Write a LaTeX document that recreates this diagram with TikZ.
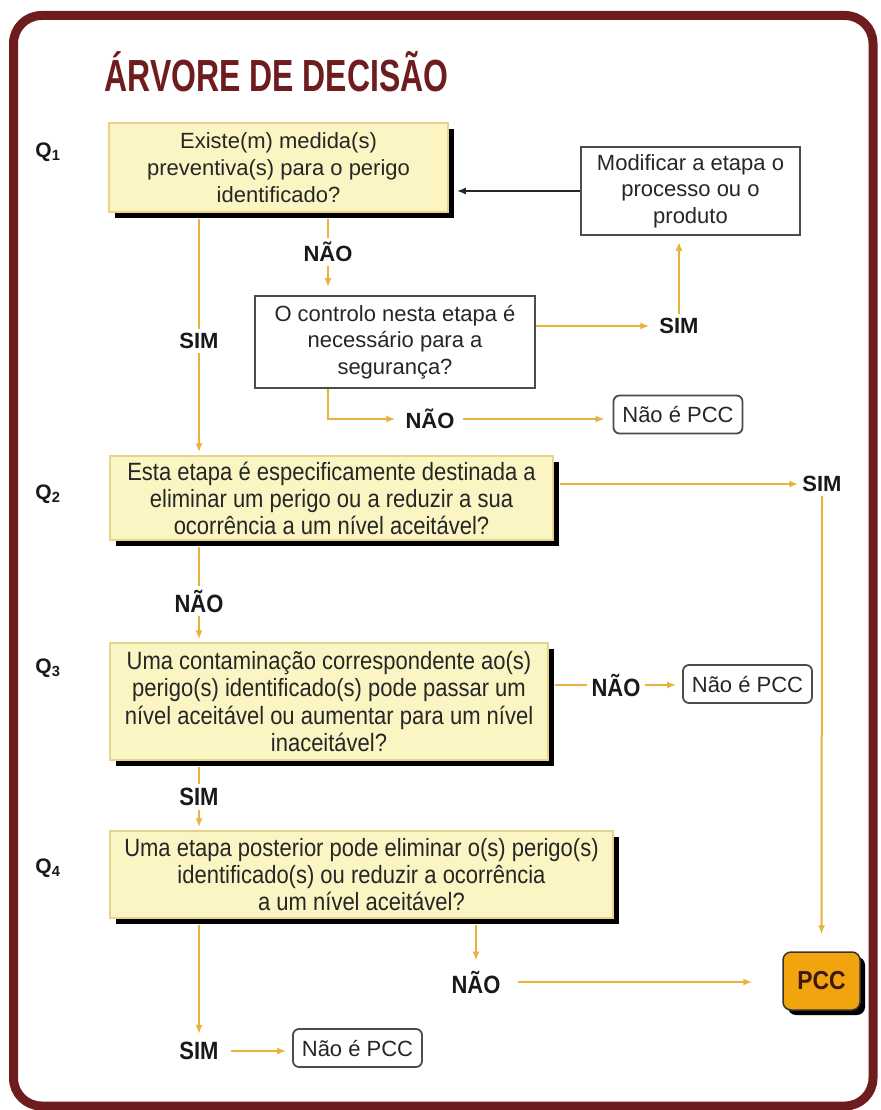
\documentclass[tikz,border=0pt]{standalone}
\usepackage{fontspec}
\setmainfont{Liberation Sans}
\newfontfamily\narrowfont[FakeStretch=0.88]{Liberation Sans}
\newfontfamily\titlefont[FakeStretch=0.71]{Liberation Sans}
\usetikzlibrary{arrows.meta,shadows}

\definecolor{framered}{HTML}{6E1C1E}
\definecolor{boxyellow}{HTML}{FBF5C3}
\definecolor{boxedge}{HTML}{E6D38C}
\definecolor{linegold}{HTML}{E8B23C}
\definecolor{pccorange}{HTML}{F2A40E}

\begin{document}
\begin{tikzpicture}[x=1pt, y=-1pt,
    qbox/.style={draw=boxedge, line width=1.5pt, fill=boxyellow, align=center, text=black!85,
      drop shadow={shadow xshift=6pt, shadow yshift=-6pt, fill=black, opacity=1}},
    whitebox/.style={draw=black!70, line width=1.8pt, fill=white, align=center, text=black!85,
      font=\fontsize{22}{26.5}\selectfont},
    notbox/.style={whitebox, rounded corners=6pt, minimum width=129pt, minimum height=38pt, inner sep=2pt},
    pccbox/.style={draw=black!80, line width=1.5pt, fill=pccorange, rounded corners=8pt,
      text={rgb,255:red,60;green,25;blue,10}, font=\narrowfont\bfseries\fontsize{26}{26}\selectfont,
      drop shadow={shadow xshift=5pt, shadow yshift=-5pt, fill=black, opacity=1}},
    lbl/.style={font=\bfseries\fontsize{22}{24}\selectfont, text=black!90, inner sep=4pt},
    lbllow/.style={lbl, font=\narrowfont\bfseries\fontsize{25}{26}\selectfont},
    qlab/.style={font=\bfseries\fontsize{21}{21}\selectfont, text=black!90},
    yesno/.style={draw=linegold, line width=2pt},
    yesnoarrow/.style={yesno, -{Latex[length=9pt,width=7pt]}},
    backarrow/.style={draw=black!85, line width=2pt, -{Latex[length=9pt,width=7pt]}}
]
    % Define the page and the left column
    \def\pagew{880}
    \def\pageh{1110}
    \def\leftcol{199}
    \useasboundingbox (0,0) rectangle (\pagew,\pageh);

    % Draw the frame
    \draw[framered, line width=9pt, rounded corners=28pt, fill=white] (13.5,15.5) rectangle (873,1106);
    \node[anchor=base west, text=framered, font=\titlefont\bfseries\fontsize{45}{45}\selectfont] (title) at (101,92) {ÁRVORE DE DECISÃO};

    % Question labels
    \foreach \i/\y in {1/152,2/494,3/668,4/868} {
      \node[qlab] (qlab\i) at (48,\y) {Q\textsubscript{\i}};
    }

    % Draw the question boxes
    \node[qbox, minimum width=339pt, minimum height=89pt, font=\fontsize{22}{27}\selectfont] (q1) at (278.5,167.5)
      {Existe(m) medida(s)\\preventiva(s) para o perigo\\identificado?};
    \node[qbox, minimum width=443pt, minimum height=84pt, font=\narrowfont\fontsize{25}{27}\selectfont] (q2) at (331.5,498)
      {Esta etapa é especificamente destinada a\\eliminar um perigo ou a reduzir a sua\\ocorrência a um nível aceitável?};
    \node[qbox, minimum width=438pt, minimum height=117pt, font=\narrowfont\fontsize{25}{27.5}\selectfont] (q3) at (329,701.5)
      {Uma contaminação correspondente ao(s)\\perigo(s) identificado(s) pode passar um\\nível aceitável ou aumentar para um nível\\inaceitável?};
    \node[qbox, minimum width=503pt, minimum height=87pt, font=\narrowfont\fontsize{25}{27}\selectfont] (q4) at (361.5,874.5)
      {Uma etapa posterior pode eliminar o(s) perigo(s)\\identificado(s) ou reduzir a ocorrência\\a um nível aceitável?};

    % Side boxes
    \node[whitebox, minimum width=219pt, minimum height=88pt] (mod) at (690.5,191)
      {Modificar a etapa o\\processo ou o\\produto};
    \node[whitebox, minimum width=280pt, minimum height=92pt] (ctrl) at (395,342)
      {O controlo nesta etapa é\\necessário para a\\segurança?};
    \node[notbox] (np1) at (678,414.5) {Não é PCC};
    \node[notbox] (np2) at (747.5,684) {Não é PCC};
    \node[notbox] (np3) at (357.5,1048) {Não é PCC};
    \node[pccbox, minimum width=77pt, minimum height=58pt] (pcc) at (821.5,981) {PCC};

    % Answers
    \node[lbl] (n1) at (328,252) {NÃO};
    \node[lbl] (s1) at (\leftcol,341) {SIM};
    \node[lbl] (s5) at (679,326) {SIM};
    \node[lbl] (n4) at (430,419) {NÃO};
    \node[lbl] (s2) at (822,484) {SIM};
    \node[lbllow] (n2) at (\leftcol,601) {NÃO};
    \node[lbllow] (n3) at (616,685) {NÃO};
    \node[lbllow] (s3) at (\leftcol,797) {SIM};
    \node[lbllow] (n5) at (476,982) {NÃO};
    \node[lbllow] (s4) at (\leftcol,1051) {SIM};

    % Add arrows from Q1
    \draw[yesno, shorten <=6pt] (q1.south -| n1) -- (n1.north);
    \draw[yesnoarrow, shorten >=8pt] (n1.south) -- (ctrl.north -| n1);
    \draw[yesno, shorten <=6pt] (q1.south -| s1) -- (s1.north);
    \draw[yesnoarrow, shorten >=3pt] (s1.south) -- (q2.north -| s1);

    % Arrows from the control box
    \draw[yesnoarrow, shorten >=6pt] (ctrl.east |- s5) -- (s5.west);
    \draw[yesnoarrow, shorten >=6pt] (s5.north) -- (mod.south -| s5);
    \draw[backarrow, shorten >=8pt] (mod.west) -- (q1.east |- mod.west);
    \draw[yesnoarrow, shorten >=6pt] (ctrl.south -| n1) |- (n4.west);
    \draw[yesnoarrow, shorten <=4pt, shorten >=8pt] (n4.east) -- (np1.west |- n4.east);

    % Arrows from Q2 and Q3
    \draw[yesnoarrow, shorten <=6pt] (q2.east |- s2) -- (s2.west);
    \draw[yesnoarrow, shorten >=17pt] (s2.south) -- (pcc.north);
    \draw[yesno, shorten <=6pt] (q2.south -| n2) -- (n2.north);
    \draw[yesnoarrow, shorten >=3pt] (n2.south) -- (q3.north -| n2);
    \draw[yesno, shorten <=6pt] (q3.east |- n3) -- (n3.west);
    \draw[yesnoarrow, shorten >=6pt] (n3.east) -- (np2.west |- n3.east);
    \draw[yesno, shorten <=6pt] (q3.south -| s3) -- (s3.north);
    \draw[yesnoarrow, shorten >=3pt] (s3.south) -- (q4.north -| s3);

    % Arrows from Q4
    \draw[yesnoarrow, shorten <=6pt, shorten >=4pt] (q4.south -| s4) -- (s4.north);
    \draw[yesnoarrow, shorten <=8pt, shorten >=6pt] (s4.east) -- (np3.west |- s4.east);
    \draw[yesnoarrow, shorten <=6pt, shorten >=6pt] (q4.south -| n5) -- (n5.north);
    \draw[yesnoarrow, shorten <=13pt, shorten >=30pt] (n5.east) -- (pcc.west |- n5.east);
\end{tikzpicture}
\end{document}
